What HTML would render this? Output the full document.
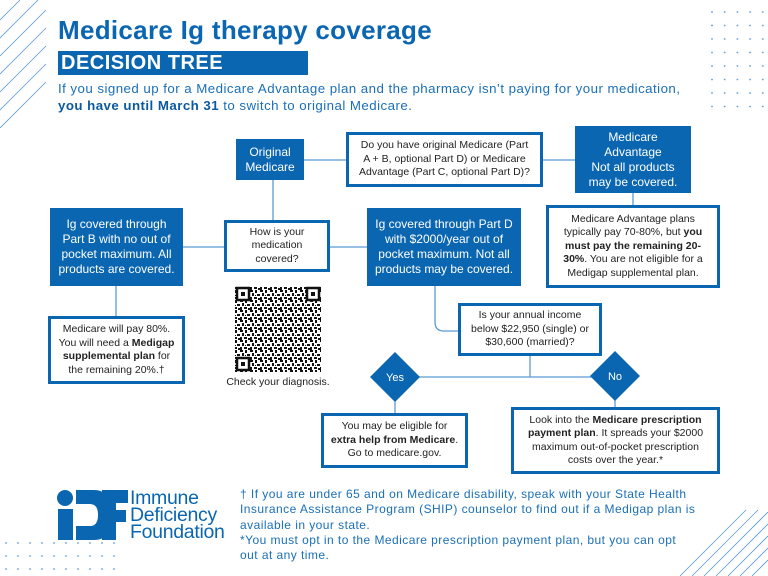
<!DOCTYPE html>
<html><head><meta charset="utf-8"><style>
*{margin:0;padding:0;box-sizing:border-box}
body{width:768px;height:576px;position:relative;background:#fff;font-family:"Liberation Sans",sans-serif;overflow:hidden;color:#111}
.a{position:absolute}
.f{position:absolute;background:#0b66b1;color:#fff;display:flex;align-items:center;justify-content:center;text-align:center;font-size:12px;line-height:15px}
.b{position:absolute;background:#fff;border:3px solid #0b66b1;display:flex;align-items:center;justify-content:center;text-align:center;font-size:10.5px;line-height:13.5px;color:#222}
.f>span,.b>span{display:block}
.t{position:absolute;color:#1a6fb8;font-size:12px;line-height:15.3px;letter-spacing:0.45px;white-space:nowrap}
</style></head><body>
<svg class="a" style="left:0;top:0" width="768" height="576">
<g stroke="#5b9bd5" stroke-width="0.8">
<line x1="0" y1="20" x2="20" y2="0"/><line x1="0" y1="38" x2="38" y2="0"/><line x1="0" y1="56" x2="46" y2="10"/><line x1="0" y1="74" x2="46" y2="28"/><line x1="0" y1="92" x2="46" y2="46"/><line x1="0" y1="110" x2="46" y2="64"/><line x1="0" y1="128" x2="46" y2="82"/>
<line x1="680" y1="576" x2="746" y2="510"/><line x1="692" y1="576" x2="758" y2="510"/><line x1="704" y1="576" x2="768" y2="512"/><line x1="716" y1="576" x2="768" y2="524"/><line x1="728" y1="576" x2="768" y2="536"/><line x1="740" y1="576" x2="768" y2="548"/><line x1="752" y1="576" x2="768" y2="560"/>
</g>
<g fill="#5b9bd5">
<defs><pattern id="d1" x="711" y="11" width="12.7" height="13.5" patternUnits="userSpaceOnUse"><circle cx="1" cy="1" r="0.9"/></pattern>
<pattern id="d2" x="5" y="542" width="12" height="13" patternUnits="userSpaceOnUse"><circle cx="1" cy="1" r="0.9"/></pattern></defs>
<rect x="709" y="9" width="59" height="102" fill="url(#d1)"/>
<rect x="3" y="540" width="114" height="36" fill="url(#d2)"/>
</g>
<g stroke="#5b9bd5" stroke-width="1.3" fill="none">
<line x1="304" y1="160" x2="346" y2="160"/><line x1="543" y1="160" x2="575" y2="160"/>
<line x1="273" y1="180" x2="273" y2="220"/><line x1="633" y1="193" x2="633" y2="205"/>
<line x1="183" y1="247" x2="224" y2="247"/><line x1="330" y1="247" x2="367" y2="247"/>
<line x1="116" y1="286" x2="116" y2="316"/>
<path d="M435 286 V322 Q435 331 444 331 H458"/>
<line x1="530" y1="356" x2="530" y2="377"/><line x1="395" y1="377" x2="615" y2="377"/>
<line x1="395" y1="400" x2="395" y2="413"/><line x1="615" y1="400" x2="615" y2="407"/>
</g>
<polygon points="395,352 420,377 395,402 370,377" fill="#0b66b1"/>
<polygon points="615,351 640,376 615,401 590,376" fill="#0b66b1"/>
<text x="395" y="381" fill="#fff" font-size="11" text-anchor="middle" font-family="Liberation Sans">Yes</text>
<text x="615" y="380" fill="#fff" font-size="11" text-anchor="middle" font-family="Liberation Sans">No</text>
<defs><pattern id="qr" width="10" height="10" patternUnits="userSpaceOnUse">
<rect x="0" y="0" width="3" height="2" fill="#111"/><rect x="5" y="0" width="2" height="3" fill="#111"/><rect x="2" y="3" width="2" height="3" fill="#111"/><rect x="7" y="4" width="3" height="2" fill="#111"/><rect x="0" y="7" width="2" height="3" fill="#111"/><rect x="4" y="7" width="3" height="2" fill="#111"/><rect x="8" y="8" width="2" height="2" fill="#111"/><rect x="5" y="5" width="1" height="1" fill="#111"/></pattern></defs>
<rect x="235" y="286" width="86" height="86" fill="url(#qr)"/>
<g fill="none" stroke="#111" stroke-width="2.5"><rect x="237" y="288" width="12" height="12" fill="#fff"/><rect x="307" y="288" width="12" height="12" fill="#fff"/><rect x="237" y="358" width="12" height="12" fill="#fff"/></g>
<g fill="#111"><rect x="241" y="292" width="4" height="4"/><rect x="311" y="292" width="4" height="4"/><rect x="241" y="362" width="4" height="4"/></g>
<g fill="#0b66b1">
<circle cx="65" cy="498" r="8"/>
<rect x="58" y="509" width="15" height="31"/>
<path d="M76 490 H94 Q112 490 112 515 Q112 540 94 540 H76 V526 H90 Q98 526 98 515 Q98 504 90 504 H76 Z"/>
<path d="M102 490 H128 V503 H116 V510 H126 V522 H116 V540 H102 Z"/>
</g>
<text x="130" y="504" fill="#0b66b1" font-size="19.5" font-family="Liberation Sans" letter-spacing="-0.3">Immune</text>
<text x="130" y="521" fill="#0b66b1" font-size="19.5" font-family="Liberation Sans" letter-spacing="-0.3">Deficiency</text>
<text x="130" y="538" fill="#0b66b1" font-size="19.5" font-family="Liberation Sans" letter-spacing="-0.3">Foundation</text>
</svg>

<div class="a" style="left:58px;top:15px;font-size:26px;font-weight:bold;color:#0b66b1;letter-spacing:0.3px">Medicare Ig therapy coverage</div>
<div class="a" style="left:58px;top:51px;width:250px;height:24px;background:#0b66b1;color:#fff;font-size:20px;font-weight:bold;padding-left:3px;line-height:24px;letter-spacing:0.5px">DECISION TREE</div>
<div class="a" style="left:58px;top:80px;font-size:13.3px;line-height:17px;color:#1a6fb8;letter-spacing:0.45px;white-space:nowrap">If you signed up for a Medicare Advantage plan and the pharmacy isn’t paying for your medication,<br><b style="color:#0b5aa0">you have until March 31</b> to switch to original Medicare.</div>

<div class="f" style="left:236px;top:139px;width:68px;height:41px"><span>Original<br>Medicare</span></div>
<div class="b" style="left:346px;top:132px;width:197px;height:55px"><span>Do you have original Medicare (Part<br>A + B, optional Part D) or Medicare<br>Advantage (Part C, optional Part D)?</span></div>
<div class="f" style="left:575px;top:126px;width:116px;height:67px"><span>Medicare<br>Advantage<br>Not all products<br>may be covered.</span></div>
<div class="f" style="left:50px;top:208px;width:133px;height:78px"><span>Ig covered through<br>Part B with no out of<br>pocket maximum. All<br>products are covered.</span></div>
<div class="b" style="left:224px;top:220px;width:106px;height:52px"><span>How is your<br>medication<br>covered?</span></div>
<div class="f" style="left:367px;top:208px;width:154px;height:78px"><span>Ig covered through Part D<br>with $2000/year out of<br>pocket maximum. Not all<br>products may be covered.</span></div>
<div class="b" style="left:546px;top:205px;width:174px;height:83px"><span>Medicare Advantage plans<br>typically pay 70-80%, but <b>you<br>must pay the remaining 20-<br>30%</b>. You are not eligible for a<br>Medigap supplemental plan.</span></div>
<div class="b" style="left:48px;top:316px;width:137px;height:68px"><span>Medicare will pay 80%.<br>You will need a <b>Medigap<br>supplemental plan</b> for<br>the remaining 20%.†</span></div>
<div class="a" style="left:218px;top:376px;width:120px;text-align:center;font-size:10.5px;color:#222">Check your diagnosis.</div>
<div class="b" style="left:458px;top:303px;width:144px;height:53px"><span>Is your annual income<br>below $22,950 (single) or<br>$30,600 (married)?</span></div>
<div class="b" style="left:321px;top:413px;width:147px;height:55px"><span>You may be eligible for<br><b>extra help from Medicare</b>.<br>Go to medicare.gov.</span></div>
<div class="b" style="left:511px;top:407px;width:209px;height:67px"><span>Look into the <b>Medicare prescription<br>payment plan</b>. It spreads your $2000<br>maximum out-of-pocket prescription<br>costs over the year.*</span></div>

<div class="t" style="left:240px;top:487px">† If you are under 65 and on Medicare disability, speak with your State Health<br>Insurance Assistance Program (SHIP) counselor to find out if a Medigap plan is<br>available in your state.<br>*You must opt in to the Medicare prescription payment plan, but you can opt<br>out at any time.</div>
</body></html>
